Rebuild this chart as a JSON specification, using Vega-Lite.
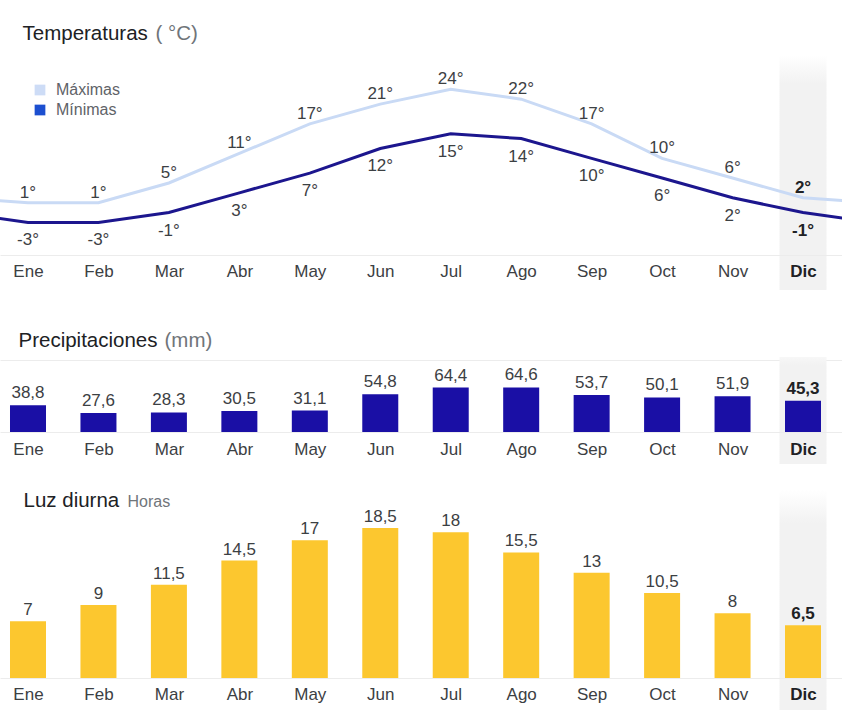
{
  "$schema": "https://vega.github.io/schema/vega-lite/v6.json",
  "padding": {"left": 0, "right": 0, "top": 23, "bottom": 0},
  "config": {
    "font": "Liberation Sans",
    "view": {"stroke": null},
    "locale": {"number": {"decimal": ",", "thousands": ".", "grouping": [3], "currency": ["", "°"], "minus": "-"}},
    "text": {"font": "Liberation Sans", "fontSize": 17, "color": "#3c4043"}
  },
  "datasets": {
    "temp": [
      {"m": 0, "serie": "Máximas", "t": 2}, {"m": 0, "serie": "Mínimas", "t": -1},
      {"m": 1, "serie": "Máximas", "t": 1}, {"m": 1, "serie": "Mínimas", "t": -3},
      {"m": 2, "serie": "Máximas", "t": 1}, {"m": 2, "serie": "Mínimas", "t": -3},
      {"m": 3, "serie": "Máximas", "t": 5}, {"m": 3, "serie": "Mínimas", "t": -1},
      {"m": 4, "serie": "Máximas", "t": 11}, {"m": 4, "serie": "Mínimas", "t": 3},
      {"m": 5, "serie": "Máximas", "t": 17}, {"m": 5, "serie": "Mínimas", "t": 7},
      {"m": 6, "serie": "Máximas", "t": 21}, {"m": 6, "serie": "Mínimas", "t": 12},
      {"m": 7, "serie": "Máximas", "t": 24}, {"m": 7, "serie": "Mínimas", "t": 15},
      {"m": 8, "serie": "Máximas", "t": 22}, {"m": 8, "serie": "Mínimas", "t": 14},
      {"m": 9, "serie": "Máximas", "t": 17}, {"m": 9, "serie": "Mínimas", "t": 10},
      {"m": 10, "serie": "Máximas", "t": 10}, {"m": 10, "serie": "Mínimas", "t": 6},
      {"m": 11, "serie": "Máximas", "t": 6}, {"m": 11, "serie": "Mínimas", "t": 2},
      {"m": 12, "serie": "Máximas", "t": 2}, {"m": 12, "serie": "Mínimas", "t": -1},
      {"m": 13, "serie": "Máximas", "t": 1}, {"m": 13, "serie": "Mínimas", "t": -3}
    ],
    "mes": [
      {"m": 1, "precip": 38.8, "luz": 7},
      {"m": 2, "precip": 27.6, "luz": 9},
      {"m": 3, "precip": 28.3, "luz": 11.5},
      {"m": 4, "precip": 30.5, "luz": 14.5},
      {"m": 5, "precip": 31.1, "luz": 17},
      {"m": 6, "precip": 54.8, "luz": 18.5},
      {"m": 7, "precip": 64.4, "luz": 18},
      {"m": 8, "precip": 64.6, "luz": 15.5},
      {"m": 9, "precip": 53.7, "luz": 13},
      {"m": 10, "precip": 50.1, "luz": 10.5},
      {"m": 11, "precip": 51.9, "luz": 8},
      {"m": 12, "precip": 45.3, "luz": 6.5}
    ]
  },
  "spacing": 83,
  "bounds": "flush",
  "vconcat": [
    {
      "width": 842,
      "height": 200,
      "data": {"name": "temp"},
      "encoding": {
        "x": {
          "field": "m", "type": "quantitative",
          "scale": {"domain": [0.6026, 12.5535], "nice": false, "zero": false, "padding": 0},
          "axis": {
            "zindex": 2,
            "values": [1, 2, 3, 4, 5, 6, 7, 8, 9, 10, 11, 12],
            "labelExpr": "['Ene','Feb','Mar','Abr','May','Jun','Jul','Ago','Sep','Oct','Nov','Dic'][datum.value - 1]",
            "ticks": false, "tickSize": 0, "grid": false,
            "domainColor": "#ececec",
            "labelFontSize": 17, "labelPadding": 21, "labelBaseline": "alphabetic",
            "labelColor": {"condition": {"test": "datum.value == 12", "value": "#202124"}, "value": "#3c4043"},
            "labelFontWeight": {"condition": {"test": "datum.value == 12", "value": "bold"}, "value": "normal"},
            "labelFlush": false, "labelOverlap": false, "labelBound": false,
            "title": "Temperaturas", "titleX": 22, "titleY": -216, "titleAlign": "left", "titleBaseline": "alphabetic",
            "titleFontSize": 20.5, "titleFontWeight": "normal", "titleColor": "#202124"
          }
        },
        "y": {
          "field": "t", "type": "quantitative",
          "scale": {"domain": [-9.61, 30.96], "nice": false, "zero": false},
          "axis": {
            "labels": false, "ticks": false, "domain": false, "grid": false,
            "title": "( °C)", "titleAngle": 0, "titleX": 155, "titleY": -16, "titleAlign": "left", "titleBaseline": "alphabetic",
            "titleFontSize": 20.5, "titleFontWeight": "normal", "titleColor": "#70757a"
          }
        }
      },
      "layer": [
        {
          "transform": [{"filter": "datum.m == 12 && datum.serie == 'Máximas'"}],
          "mark": {"type": "bar", "width": 47, "clip": false,
            "color": {"gradient": "linear", "x1": 0, "y1": 0, "x2": 0, "y2": 1,
              "stops": [{"offset": 0, "color": "#ffffff"}, {"offset": 0.12, "color": "#f2f2f2"}, {"offset": 1, "color": "#f2f2f2"}]}},
          "encoding": {
            "y": {"datum": 30.96, "type": "quantitative",
              "scale": {"domain": [-9.61, 30.96], "nice": false, "zero": false},
              "axis": {
                "labels": false, "ticks": false, "domain": false, "grid": false,
                "title": "( °C)", "titleAngle": 0, "titleX": 155, "titleY": -16, "titleAlign": "left", "titleBaseline": "alphabetic",
                "titleFontSize": 20.5, "titleFontWeight": "normal", "titleColor": "#70757a"
              }},
            "y2": {"datum": -16.7}
          }
        },
        {
          "transform": [{"filter": "datum.serie == 'Máximas'"}],
          "mark": {"type": "line", "strokeWidth": 3, "clip": true, "color": "#c9daf5"}
        },
        {
          "transform": [{"filter": "datum.serie == 'Mínimas'"}],
          "mark": {"type": "line", "strokeWidth": 3, "clip": true, "color": "#1c168e"}
        },
        {
          "transform": [{"filter": "datum.m >= 1 && datum.m <= 12"}],
          "mark": {"type": "point", "filled": true, "opacity": 0},
          "encoding": {
            "fill": {"field": "serie", "type": "nominal",
              "scale": {"domain": ["Máximas", "Mínimas"], "range": ["#cddcf6", "#1c4fd0"]},
              "legend": {"orient": "none", "legendX": 32, "legendY": 27, "title": null,
                "symbolType": "square", "symbolSize": 115, "symbolOpacity": 1, "symbolStrokeWidth": 0,
                "labelFontSize": 16, "labelColor": "#5f6368", "labelOffset": 8, "rowPadding": 4, "padding": 0}}
          }
        },
        {
          "transform": [{"filter": "datum.m >= 1 && datum.m < 12 && datum.serie == 'Máximas'"}],
          "mark": {"type": "text", "baseline": "alphabetic", "dy": -5},
          "encoding": {"text": {"field": "t", "type": "quantitative", "format": "$d"}}
        },
        {
          "transform": [{"filter": "datum.m >= 1 && datum.m < 12 && datum.serie == 'Mínimas'"}],
          "mark": {"type": "text", "baseline": "alphabetic", "dy": 23},
          "encoding": {"text": {"field": "t", "type": "quantitative", "format": "$d"}}
        },
        {
          "transform": [{"filter": "datum.m == 12 && datum.serie == 'Máximas'"}],
          "mark": {"type": "text", "baseline": "alphabetic", "dy": -5, "fontWeight": "bold", "color": "#202124"},
          "encoding": {"text": {"field": "t", "type": "quantitative", "format": "$d"}}
        },
        {
          "transform": [{"filter": "datum.m == 12 && datum.serie == 'Mínimas'"}],
          "mark": {"type": "text", "baseline": "alphabetic", "dy": 23, "fontWeight": "bold", "color": "#202124"},
          "encoding": {"text": {"field": "t", "type": "quantitative", "format": "$d"}}
        }
      ]
    },
    {
      "width": 842,
      "height": 94,
      "data": {"name": "mes"},
      "encoding": {
        "x": {
          "field": "m", "type": "quantitative",
          "scale": {"domain": [0.6026, 12.5535], "nice": false, "zero": false, "padding": 0},
          "axis": {
            "zindex": 2,
            "values": [1, 2, 3, 4, 5, 6, 7, 8, 9, 10, 11, 12],
            "labelExpr": "['Ene','Feb','Mar','Abr','May','Jun','Jul','Ago','Sep','Oct','Nov','Dic'][datum.value - 1]",
            "ticks": false, "tickSize": 0, "grid": false,
            "domainColor": "#ececec",
            "labelFontSize": 17, "labelPadding": 22.5, "labelBaseline": "alphabetic",
            "labelColor": {"condition": {"test": "datum.value == 12", "value": "#202124"}, "value": "#3c4043"},
            "labelFontWeight": {"condition": {"test": "datum.value == 12", "value": "bold"}, "value": "normal"},
            "labelFlush": false, "labelOverlap": false, "labelBound": false,
            "title": "Precipitaciones", "titleX": 18, "titleY": -86, "titleAlign": "left", "titleBaseline": "alphabetic",
            "titleFontSize": 20.5, "titleFontWeight": "normal", "titleColor": "#202124"
          }
        },
        "y": {
          "field": "precip", "type": "quantitative",
          "scale": {"domain": [0, 136.2], "nice": false, "zero": false},
          "axis": {
            "labels": false, "ticks": false, "domain": false, "grid": true, "values": [104.3], "gridColor": "#ececec",
            "title": "(mm)", "titleAngle": 0, "titleX": 164, "titleY": 8, "titleAlign": "left", "titleBaseline": "alphabetic",
            "titleFontSize": 20.5, "titleFontWeight": "normal", "titleColor": "#70757a"
          }
        }
      },
      "layer": [
        {
          "transform": [{"filter": "datum.m == 12"}],
          "mark": {"type": "bar", "width": 47, "clip": false,
            "color": {"gradient": "linear", "x1": 0, "y1": 0, "x2": 0, "y2": 1,
              "stops": [{"offset": 0, "color": "#f7f7f7"}, {"offset": 0.08, "color": "#f2f2f2"}, {"offset": 1, "color": "#f2f2f2"}]}},
          "encoding": {
            "y": {"datum": 108.7, "type": "quantitative",
              "scale": {"domain": [0, 136.2], "nice": false, "zero": false},
              "axis": {
                "labels": false, "ticks": false, "domain": false, "grid": true, "values": [104.3], "gridColor": "#ececec",
                "title": "(mm)", "titleAngle": 0, "titleX": 164, "titleY": 8, "titleAlign": "left", "titleBaseline": "alphabetic",
                "titleFontSize": 20.5, "titleFontWeight": "normal", "titleColor": "#70757a"
              }},
            "y2": {"datum": -46.4}
          }
        },
        {
          "mark": {"type": "bar", "width": 36, "color": "#1a0fa5"}
        },
        {
          "transform": [{"filter": "datum.m < 12"}],
          "mark": {"type": "text", "baseline": "alphabetic", "dy": -7},
          "encoding": {"text": {"field": "precip", "type": "quantitative", "format": ".1f"}}
        },
        {
          "transform": [{"filter": "datum.m == 12"}],
          "mark": {"type": "text", "baseline": "alphabetic", "dy": -7, "fontWeight": "bold", "color": "#202124"},
          "encoding": {"text": {"field": "precip", "type": "quantitative", "format": ".1f"}}
        }
      ]
    },
    {
      "width": 842,
      "height": 163,
      "data": {"name": "mes"},
      "encoding": {
        "x": {
          "field": "m", "type": "quantitative",
          "scale": {"domain": [0.6026, 12.5535], "nice": false, "zero": false, "padding": 0},
          "axis": {
            "zindex": 2,
            "values": [1, 2, 3, 4, 5, 6, 7, 8, 9, 10, 11, 12],
            "labelExpr": "['Ene','Feb','Mar','Abr','May','Jun','Jul','Ago','Sep','Oct','Nov','Dic'][datum.value - 1]",
            "ticks": false, "tickSize": 0, "grid": false,
            "domainColor": "#ececec",
            "labelFontSize": 17, "labelPadding": 21.5, "labelBaseline": "alphabetic",
            "labelColor": {"condition": {"test": "datum.value == 12", "value": "#202124"}, "value": "#3c4043"},
            "labelFontWeight": {"condition": {"test": "datum.value == 12", "value": "bold"}, "value": "normal"},
            "labelFlush": false, "labelOverlap": false, "labelBound": false,
            "title": "Luz diurna", "titleX": 23, "titleY": -172, "titleAlign": "left", "titleBaseline": "alphabetic",
            "titleFontSize": 20.5, "titleFontWeight": "normal", "titleColor": "#202124"
          }
        },
        "y": {
          "field": "luz", "type": "quantitative",
          "scale": {"domain": [0, 20.12], "nice": false, "zero": false},
          "axis": {
            "labels": false, "ticks": false, "domain": false, "grid": false,
            "title": "Horas", "titleAngle": 0, "titleX": 127, "titleY": -9, "titleAlign": "left", "titleBaseline": "alphabetic",
            "titleFontSize": 16, "titleFontWeight": "normal", "titleColor": "#70757a"
          }
        }
      },
      "layer": [
        {
          "transform": [{"filter": "datum.m == 12"}],
          "mark": {"type": "bar", "width": 47, "clip": false,
            "color": {"gradient": "linear", "x1": 0, "y1": 0, "x2": 0, "y2": 1,
              "stops": [{"offset": 0, "color": "#ffffff"}, {"offset": 0.15, "color": "#f2f2f2"}, {"offset": 1, "color": "#f2f2f2"}]}},
          "encoding": {
            "y": {"datum": 23.2, "type": "quantitative",
              "scale": {"domain": [0, 20.12], "nice": false, "zero": false},
              "axis": {
                "labels": false, "ticks": false, "domain": false, "grid": false,
                "title": "Horas", "titleAngle": 0, "titleX": 127, "titleY": -9, "titleAlign": "left", "titleBaseline": "alphabetic",
                "titleFontSize": 16, "titleFontWeight": "normal", "titleColor": "#70757a"
              }},
            "y2": {"datum": -3.95}
          }
        },
        {
          "mark": {"type": "bar", "width": 36, "color": "#fcc72f"}
        },
        {
          "transform": [{"filter": "datum.m < 12"}],
          "mark": {"type": "text", "baseline": "alphabetic", "dy": -6},
          "encoding": {"text": {"field": "luz", "type": "quantitative", "format": ".1~f"}}
        },
        {
          "transform": [{"filter": "datum.m == 12"}],
          "mark": {"type": "text", "baseline": "alphabetic", "dy": -6, "fontWeight": "bold", "color": "#202124"},
          "encoding": {"text": {"field": "luz", "type": "quantitative", "format": ".1~f"}}
        }
      ]
    }
  ]
}
